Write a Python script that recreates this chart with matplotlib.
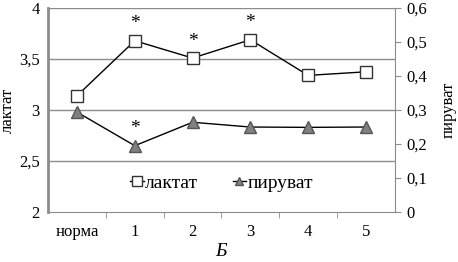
import matplotlib.pyplot as plt

plt.rcParams['font.family'] = ['Liberation Serif', 'DejaVu Serif']

categories = ['норма', '1', '2', '3', '4', '5']
lactate = [3.14, 3.68, 3.51, 3.69, 3.34, 3.375]
pyruvate = [0.294, 0.195, 0.264, 0.25, 0.249, 0.25]
lactate_marked = [1, 2, 3]
pyruvate_marked = [1]

fig = plt.figure(figsize=(4.58, 2.62), dpi=100)
ax = fig.add_axes([0.105, 0.191, 0.757, 0.778])
ax2 = ax.twinx()

x = list(range(len(categories)))
grid_c = '#8c8c8c'

ax.set_xlim(-0.5, len(categories) - 0.5)
ax.set_ylim(2, 4)
ax.set_yticks([2, 2.5, 3, 3.5, 4])
ax.set_yticklabels(['2', '2,5', '3', '3,5', '4'], fontsize=12)
for v in [2.5, 3, 3.5, 4]:
    ax.axhline(v, color=grid_c, lw=1, zorder=0)
ax.tick_params(axis='y', length=0, pad=6)
ax.set_xticks(x)
ax.set_xticklabels(categories, fontsize=12)
ax.set_xticks([i + 0.5 for i in x[:-1]], minor=True)
ax.tick_params(axis='x', which='major', length=0, pad=9)
ax.tick_params(axis='x', which='minor', length=4, color=grid_c, direction='out')
ax.spines['top'].set_visible(False)
ax.spines['left'].set_color(grid_c)
ax.spines['left'].set_linewidth(2)
ax.spines['bottom'].set_color(grid_c)
ax.spines['right'].set_visible(False)

ax2.set_ylim(0, 0.6)
ax2.set_yticks([0, 0.1, 0.2, 0.3, 0.4, 0.5, 0.6])
ax2.set_yticklabels(['0', '0,1', '0,2', '0,3', '0,4', '0,5', '0,6'], fontsize=12)
ax2.tick_params(axis='y', length=4, color=grid_c, direction='out', pad=4)
for s in ['top', 'left', 'bottom']:
    ax2.spines[s].set_visible(False)
ax2.spines['right'].set_color(grid_c)

l1, = ax.plot(x, lactate, color='black', lw=1, marker='s', markersize=9,
              markerfacecolor='white', markeredgecolor='#333333', zorder=3)
l2, = ax2.plot(x, pyruvate, color='black', lw=1, marker='^', markersize=8,
               markerfacecolor='#808080', markeredgecolor='#555555', zorder=3)

for i in lactate_marked:
    ax.annotate('*', (x[i], lactate[i]), xytext=(0, 6), textcoords='offset points',
                ha='center', va='bottom', fontsize=14)
for i in pyruvate_marked:
    ax2.annotate('*', (x[i], pyruvate[i]), xytext=(0, 6), textcoords='offset points',
                 ha='center', va='bottom', fontsize=14)

ax.set_ylabel('лактат', fontsize=12, labelpad=2)
ax2.set_ylabel('пируват', fontsize=12, labelpad=10)
ax.set_xlabel('Б', fontsize=14, style='italic', labelpad=2)

ax.legend([l1, l2], ['лактат', 'пируват'], loc='center', bbox_to_anchor=(0.5, 0.14),
          ncol=2, frameon=False, fontsize=14, handlelength=0.7, handletextpad=0.05,
          columnspacing=1.8, borderpad=0, markerscale=0.8)

fig.savefig('out.png', dpi=100)
